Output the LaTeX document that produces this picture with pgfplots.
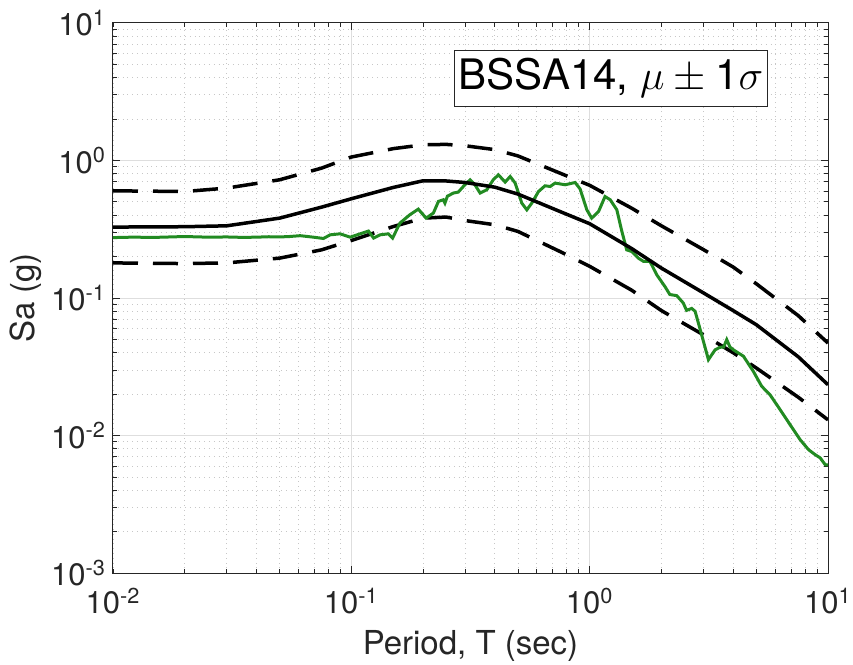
\documentclass[border=0pt]{standalone}
\usepackage{pgfplots}
\pgfplotsset{compat=1.18}
\usepackage{fontspec}
\setmainfont{TeX Gyre Heros}
\definecolor{axgray}{RGB}{38,38,38}
\definecolor{mgreen}{RGB}{34,139,34}
\begin{document}
\begin{tikzpicture}
\begin{axis}[
  scale only axis,
  width=357.5pt, height=275pt,
  xmode=log, ymode=log,
  xmin=0.01, xmax=10, ymin=0.001, ymax=10,
  xtick={0.01,0.1,1,10},
  xticklabels={10\textsuperscript{-2},10\textsuperscript{-1},10\textsuperscript{0},10\textsuperscript{1}},
  ytick={0.001,0.01,0.1,1,10},
  yticklabels={10\textsuperscript{-3},10\textsuperscript{-2},10\textsuperscript{-1},10\textsuperscript{0},10\textsuperscript{1}},
  ticklabel style={font=\fontsize{15.5}{18}\selectfont, text=axgray},
  xticklabel style={yshift=-4pt},
  label style={font=\fontsize{16.5}{20}\selectfont, text=axgray},
  xlabel={Period, T (sec)},
  ylabel={Sa (g)},
  xlabel style={yshift=-1pt},
  ylabel style={yshift=-2pt},
  axis line style={axgray, line width=0.5pt},
  major tick style={axgray, line width=0.5pt},
  minor tick style={axgray, line width=0.4pt},
  major tick length=3.5pt, minor tick length=2pt,
  xmajorgrids, ymajorgrids, xminorgrids, yminorgrids,
  major grid style={black!13, line width=0.5pt},
  minor grid style={black!22, line width=0.4pt, dotted},
  clip=true,
]
% -1 sigma
\addplot[black, line width=1.75pt, dash pattern=on 12.5pt off 7.5pt] coordinates {
(0.01,0.180) (0.02,0.178) (0.03,0.180) (0.05,0.195) (0.075,0.224) (0.1,0.262)
(0.15,0.331) (0.2,0.381) (0.25,0.388) (0.3,0.366) (0.4,0.341) (0.5,0.305)
(0.75,0.218) (1,0.170) (1.5,0.114) (2,0.081) (3,0.054) (4,0.040) (5,0.031)
(7.5,0.019) (10,0.0130)};
% +1 sigma
\addplot[black, line width=1.75pt, dash pattern=on 12.5pt off 7.5pt] coordinates {
(0.01,0.602) (0.02,0.595) (0.03,0.630) (0.05,0.724) (0.075,0.880) (0.1,1.06)
(0.15,1.22) (0.2,1.30) (0.25,1.31) (0.3,1.28) (0.4,1.20) (0.5,1.08)
(0.75,0.81) (1,0.66) (1.5,0.45) (2,0.335) (3,0.225) (4,0.168) (5,0.127)
(7.5,0.0745) (10,0.047)};
% green record
\addplot[mgreen, line width=1.5pt] coordinates {
(0.01,0.275) (0.012,0.277) (0.015,0.276) (0.02,0.280) (0.025,0.277) (0.03,0.278)
(0.035,0.276) (0.04,0.277) (0.045,0.279) (0.05,0.278) (0.055,0.280) (0.061,0.284)
(0.0693,0.277) (0.0764,0.271) (0.0815,0.288) (0.0897,0.293) (0.0989,0.277)
(0.109,0.293) (0.118,0.307) (0.124,0.273) (0.132,0.288) (0.143,0.293) (0.149,0.273)
(0.160,0.351) (0.176,0.403) (0.191,0.443) (0.206,0.381) (0.221,0.415) (0.232,0.504)
(0.243,0.518) (0.247,0.490) (0.253,0.550) (0.268,0.580) (0.281,0.589) (0.295,0.647)
(0.315,0.724) (0.330,0.666) (0.347,0.580) (0.370,0.612) (0.394,0.724) (0.414,0.787)
(0.442,0.697) (0.464,0.765) (0.487,0.685) (0.519,0.490) (0.545,0.438) (0.572,0.490)
(0.610,0.595) (0.650,0.655) (0.683,0.647) (0.716,0.685) (0.789,0.666) (0.869,0.692)
(0.912,0.620) (0.973,0.438) (1.02,0.381) (1.09,0.426) (1.16,0.547) (1.22,0.518)
(1.30,0.438) (1.36,0.313) (1.43,0.224) (1.50,0.218) (1.60,0.195) (1.68,0.185)
(1.79,0.185) (1.91,0.148) (2.07,0.121) (2.17,0.106) (2.32,0.104) (2.47,0.092)
(2.55,0.0813) (2.68,0.084) (2.77,0.080) (2.95,0.054) (3.15,0.0356) (3.36,0.042)
(3.52,0.0438) (3.65,0.044) (3.76,0.0498) (3.88,0.044) (4.01,0.042) (4.42,0.0377)
(4.86,0.0293) (5.27,0.0228) (5.71,0.0198) (6.30,0.0154) (6.93,0.0120) (7.64,0.00933)
(8.28,0.0079) (8.83,0.00726) (9.27,0.00688) (9.73,0.00614) (10,0.0061)};
% median
\addplot[black, line width=1.75pt] coordinates {
(0.01,0.328) (0.02,0.330) (0.03,0.335) (0.05,0.381) (0.075,0.458) (0.1,0.527)
(0.15,0.637) (0.2,0.712) (0.25,0.710) (0.3,0.692) (0.4,0.640) (0.5,0.570)
(0.75,0.426) (1,0.347) (1.5,0.229) (2,0.165) (3,0.109) (4,0.081) (5,0.064)
(7.5,0.0374) (10,0.0234)};
\node[draw=axgray, fill=white, line width=0.5pt, minimum width=152pt, minimum height=28pt, inner sep=2pt,
  font=\fontsize{21}{24}\selectfont] at (rel axis cs:0.6965,0.8996) {BSSA14, $\mu\pm{}$1$\sigma$};
\end{axis}
\pgfresetboundingbox
\path ([xshift=-56.5pt,yshift=-45.75pt]current axis.south west) rectangle ([xshift=12.5pt,yshift=11.5pt]current axis.north east);
\end{tikzpicture}
\end{document}
